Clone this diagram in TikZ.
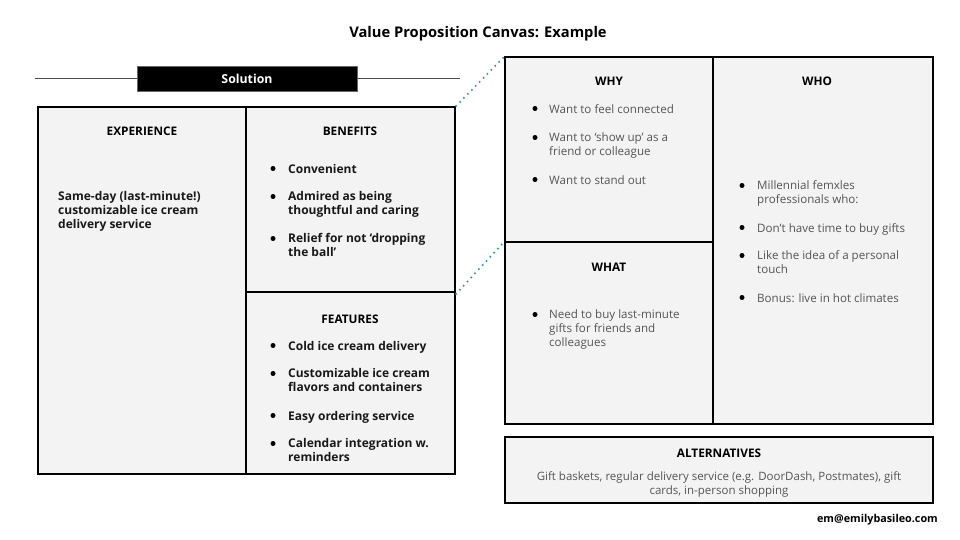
\documentclass[tikz,border=0pt]{standalone}
\usepackage{fontspec}
\setmainfont{Open Sans}
\definecolor{panel}{HTML}{F3F3F3}
\definecolor{bodygray}{HTML}{555555}
\definecolor{dotteal}{HTML}{1AA0B4}
\begin{document}
\begin{tikzpicture}[x=1pt,y=-1pt,
  panelbox/.style={draw=black, line width=1.1pt, fill=panel, inner sep=0, minimum width=#1},
  hdr/.style={font=\bfseries\fontsize{11.8}{14}\selectfont, inner sep=0},
  bodytxt/.style={font=\fontsize{11.6}{14}\selectfont, text=bodygray, anchor=north west, align=left, inner sep=0, execute at begin node=\strut},
  boldtxt/.style={font=\bfseries\fontsize{12}{14}\selectfont, text=black!90, anchor=north west, align=left, inner sep=0, execute at begin node=\strut},
  dotlink/.style={draw=dotteal, line width=1.6pt, dash pattern=on 1.6pt off 4pt},
  bulletdot/.style={circle, fill=black, inner sep=0, minimum size=5pt}
]
\useasboundingbox (0,0) rectangle (960,540);
\fill[white] (0,0) rectangle (960,540);

% title
\node[font=\bfseries\fontsize{14.7}{17}\selectfont] (title) at (478,33.5) {Value Proposition Canvas: Example};

% solution bar
\coordinate (barl) at (35,78);
\coordinate (barr) at (460,78);
\draw[black!70, line width=0.9pt] (barl) -- (barr);
\node[fill=black, draw=black!60, minimum width=220pt, minimum height=25pt, inner sep=0, text=white,
  font=\bfseries\fontsize{12.3}{14}\selectfont] (sol) at (247,78.5) {Solution};

% left panels
\node[panelbox=208pt, minimum height=367pt] (exp) at (142,290.5) {};
\node[panelbox=209pt, minimum height=185pt] (ben) at (350.5,199.5) {};
\node[panelbox=209pt, minimum height=182pt] (feat) at (350.5,383) {};

% right panels
\node[panelbox=208pt, minimum height=185pt] (why) at (609,149.5) {};
\node[panelbox=208pt, minimum height=182pt] (what) at (609,333) {};
\node[panelbox=220pt, minimum height=367pt] (who) at (823,240.5) {};
\node[panelbox=428pt, minimum height=66pt] (alt) at (719,470) {};

% dotted links
\draw[dotlink] (ben.north east) -- (why.north west);
\draw[dotlink] ([yshift=-3pt]feat.north east) -- (what.north west);

% headers
\node[hdr] (hexp) at (142,131) {EXPERIENCE};
\node[hdr] (hben) at (350,131) {BENEFITS};
\node[hdr] (hfeat) at (350,319) {FEATURES};
\node[hdr] (hwhy) at (609,81) {WHY};
\node[hdr] (hwho) at (817,81) {WHO};
\node[hdr] (hwhat) at (609,267) {WHAT};
\node[hdr] (halt) at (719,453) {ALTERNATIVES};

% experience
\node[boldtxt] (texp) at (58,191.6) {Same-day (last-minute!)\\customizable ice cream\\delivery service};

% benefits
\node[bulletdot] (b1) at (273,168.5) {};
\node[boldtxt] (tb1) at (288,163.6) {Convenient};
\node[bulletdot] (b2) at (273,196.5) {};
\node[boldtxt] (tb2) at (288,191.6) {Admired as being\\thoughtful and caring};
\node[bulletdot] (b3) at (273,238.5) {};
\node[boldtxt] (tb3) at (288,233.6) {Relief for not ‘dropping\\the ball’};

% features
\node[bulletdot] (f1) at (273,345.5) {};
\node[boldtxt] (tf1) at (288,340.6) {Cold ice cream delivery};
\node[bulletdot] (f2) at (273,373.5) {};
\node[boldtxt] (tf2) at (288,368.6) {Customizable ice cream\\flavors and containers};
\node[bulletdot] (f3) at (273,415.5) {};
\node[boldtxt] (tf3) at (288,410.6) {Easy ordering service};
\node[bulletdot] (f4) at (273,443.5) {};
\node[boldtxt] (tf4) at (288,438.6) {Calendar integration w.\\reminders};

% why
\node[bulletdot] (w1) at (535,108.5) {};
\node[bodytxt] (tw1) at (549,103.6) {Want to feel connected};
\node[bulletdot] (w2) at (535,137.5) {};
\node[bodytxt] (tw2) at (549,132.6) {Want to ‘show up’ as a\\friend or colleague};
\node[bulletdot] (w3) at (535,179.5) {};
\node[bodytxt] (tw3) at (549,174.6) {Want to stand out};

% what
\node[bulletdot] (a1) at (535,314.5) {};
\node[bodytxt] (ta1) at (549,309.6) {Need to buy last-minute\\gifts for friends and\\colleagues};

% who
\node[bulletdot] (o1) at (742,185.5) {};
\node[bodytxt] (to1) at (757,180.6) {Millennial femxles\\professionals who:};
\node[bulletdot] (o2) at (742,227.5) {};
\node[bodytxt] (to2) at (757,222.6) {Don’t have time to buy gifts};
\node[bulletdot] (o3) at (742,255.5) {};
\node[bodytxt] (to3) at (757,250.6) {Like the idea of a personal\\touch};
\node[bulletdot] (o4) at (742,297.5) {};
\node[bodytxt] (to4) at (757,292.6) {Bonus: live in hot climates};

% alternatives
\node[font=\fontsize{11.5}{14}\selectfont, text=bodygray, align=center, inner sep=0] (talt) at (719,484)
  {Gift baskets, regular delivery service (e.g. DoorDash, Postmates), gift\\cards, in-person shopping};

% email
\node[font=\bfseries\fontsize{10.8}{12}\selectfont, anchor=east, inner sep=0] (mail) at (938,520) {em@emilybasileo.com};
\end{tikzpicture}
\end{document}
